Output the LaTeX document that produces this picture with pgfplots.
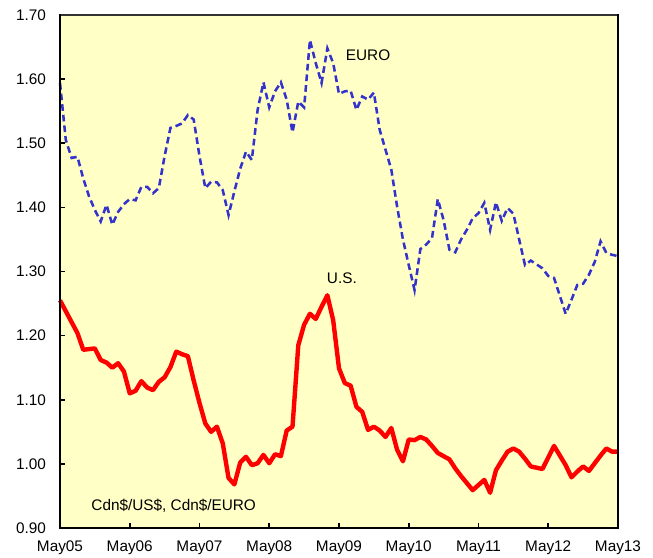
\documentclass[border=0pt]{standalone}
\usepackage{pgfplots}
\pgfplotsset{compat=1.18}
\usepackage{fontspec}
\setmainfont{Liberation Sans}
\definecolor{bgyellow}{RGB}{255,255,198}
\definecolor{eurob}{RGB}{51,51,204}

\begin{document}
\begin{tikzpicture}
  \begin{axis}[
    scale only axis,
    width=418.5pt, height=384.75pt,
    xmin=0, xmax=96,
    ymin=0.9, ymax=1.7,
    axis background/.style={fill=bgyellow},
    axis line style={draw=none},
    xtick={0,12,...,96},
    xticklabels={May05,May06,May07,May08,May09,May10,May11,May12,May13},
    ytick={0.9,1.0,...,1.71},
    xtick pos=bottom, ytick pos=left,
    tick align=inside,
    major tick length=4pt,
    tick style={black, line width=1.3pt},
    ticklabel style={font=\fontsize{11.5}{13}\selectfont},
    /pgf/number format/assume math mode=true,
    yticklabel style={/pgf/number format/.cd, fixed, fixed zerofill, precision=2},
    yticklabel shift=7pt,
    xticklabel shift=6pt,
    clip=false,
  ]
  % EURO
  \addplot[eurob, line width=1.9pt, dash pattern=on 5pt off 3pt] coordinates {
    (0,1.594) (1,1.505) (2,1.477) (3,1.479) (4,1.445) (5,1.417) (6,1.396)
    (7,1.378) (8,1.404) (9,1.373) (10,1.393) (11,1.405) (12,1.413) (13,1.411)
    (14,1.432) (15,1.432) (16,1.422) (17,1.430) (18,1.480) (19,1.524) (20,1.527)
    (21,1.531) (22,1.544) (23,1.537) (24,1.480) (25,1.430) (26,1.440) (27,1.439)
    (28,1.427) (29,1.388) (30,1.425) (31,1.460) (32,1.487) (33,1.474) (34,1.552)
    (35,1.595) (36,1.556) (37,1.581) (38,1.595) (39,1.568) (40,1.517) (41,1.565)
    (42,1.556) (43,1.661) (44,1.625) (45,1.594) (46,1.648) (47,1.625) (48,1.577)
    (49,1.581) (50,1.582) (51,1.552) (52,1.573) (53,1.568) (54,1.579) (55,1.521)
    (56,1.490) (57,1.459) (58,1.401) (59,1.350) (60,1.310) (61,1.271) (62,1.335)
    (63,1.342) (64,1.352) (65,1.413) (66,1.380) (67,1.334) (68,1.330) (69,1.350)
    (70,1.365) (71,1.383) (72,1.391) (73,1.407) (74,1.365) (75,1.408) (76,1.379)
    (77,1.399) (78,1.390) (79,1.350) (80,1.310) (81,1.317) (82,1.311) (83,1.305)
    (84,1.293) (85,1.290) (86,1.262) (87,1.234) (88,1.256) (89,1.279) (90,1.281)
    (91,1.295) (92,1.315) (93,1.347) (94,1.329) (95,1.326) (96,1.324)
  };
  % U.S.
  \addplot[red, line width=3.3pt, line join=round] coordinates {
    (0,1.255) (1,1.238) (2,1.221) (3,1.204) (4,1.178) (5,1.179) (6,1.180)
    (7,1.162) (8,1.158) (9,1.150) (10,1.157) (11,1.144) (12,1.110) (13,1.114)
    (14,1.129) (15,1.119) (16,1.115) (17,1.128) (18,1.135) (19,1.151) (20,1.175)
    (21,1.171) (22,1.168) (23,1.130) (24,1.095) (25,1.063) (26,1.050) (27,1.058)
    (28,1.032) (29,0.978) (30,0.968) (31,1.002) (32,1.011) (33,0.998) (34,1.001)
    (35,1.014) (36,1.001) (37,1.015) (38,1.012) (39,1.052) (40,1.058) (41,1.185)
    (42,1.217) (43,1.234) (44,1.226) (45,1.245) (46,1.263) (47,1.224) (48,1.149)
    (49,1.126) (50,1.122) (51,1.089) (52,1.081) (53,1.053) (54,1.058) (55,1.052)
    (56,1.042) (57,1.056) (58,1.022) (59,1.004) (60,1.038) (61,1.037) (62,1.042)
    (63,1.038) (64,1.028) (65,1.017) (66,1.012) (67,1.007) (68,0.993) (69,0.981)
    (70,0.970) (71,0.959) (72,0.967) (73,0.975) (74,0.955) (75,0.990) (76,1.005)
    (77,1.019) (78,1.024) (79,1.019) (80,1.008) (81,0.996) (82,0.994) (83,0.992)
    (84,1.010) (85,1.028) (86,1.013) (87,0.998) (88,0.979) (89,0.988) (90,0.996)
    (91,0.989) (92,1.001) (93,1.013) (94,1.024) (95,1.019) (96,1.019)
  };
  \node[font=\fontsize{11.5}{13}\selectfont] at (axis cs:53,1.638) {EURO};
  \node[font=\fontsize{11.5}{13}\selectfont] at (axis cs:48.5,1.290) {U.S.};
  \node[font=\fontsize{11.5}{13}\selectfont, anchor=west] at (axis cs:4.6,0.935) {Cdn\$/US\$, Cdn\$/EURO};
  % frame
  \draw[black!80, line width=0.8pt] (rel axis cs:0,1) -- (rel axis cs:1,1);
  \draw[black, line width=2.2pt, line cap=rect] (rel axis cs:1,1) -- (rel axis cs:1,0) -- (rel axis cs:0,0) -- (rel axis cs:0,1);
  \end{axis}
  \pgfresetboundingbox
  \useasboundingbox (-45pt,-21.75pt) rectangle (444.75pt,396pt);
\end{tikzpicture}
\end{document}
